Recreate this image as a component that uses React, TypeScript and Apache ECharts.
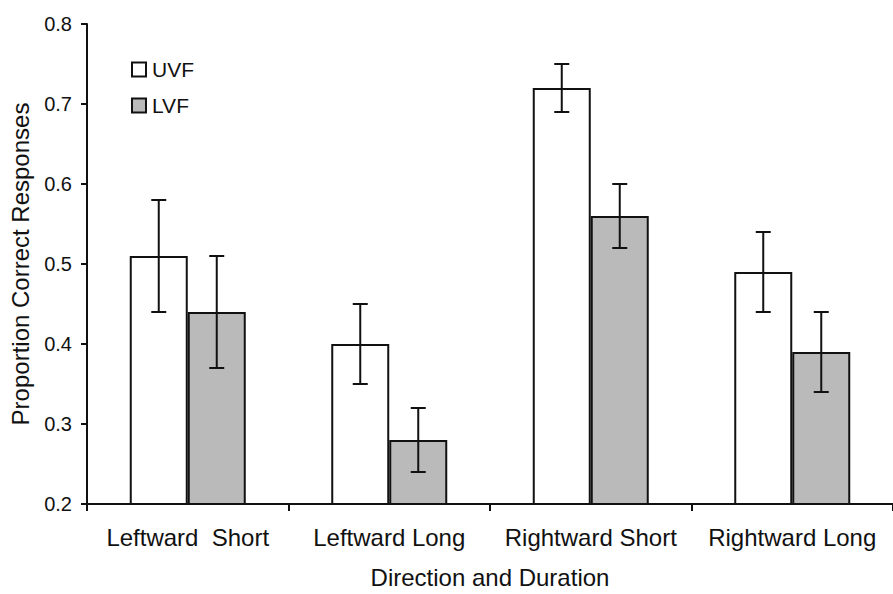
import React, { useEffect, useRef } from "react";
import * as echarts from "echarts";

// Direction/duration conditions along the x axis
const categories = ["Leftward  Short", "Leftward Long", "Rightward Short", "Rightward Long"];

// Mean proportion correct per visual field, with error-bar half widths
const uvfMean = [0.51, 0.4, 0.72, 0.49];
const uvfErr = [0.07, 0.05, 0.03, 0.05];
const lvfMean = [0.44, 0.28, 0.56, 0.39];
const lvfErr = [0.07, 0.04, 0.04, 0.05];

const yTicks = { min: 0.2, max: 0.8, interval: 0.1 };

const FONT = "Liberation Sans, Arial, Helvetica, sans-serif";
const BAR_W = 58;

function errorSeries(name: string, means: number[], errs: number[], side: number) {
  return {
    type: "custom",
    name,
    z: 5,
    silent: true,
    data: means.map((m, i) => [i, m - errs[i], m + errs[i]]),
    renderItem: (_params: any, api: any) => {
      const idx = api.value(0);
      const lo = api.coord([idx, api.value(1)]);
      const hi = api.coord([idx, api.value(2)]);
      const x = lo[0] + side * (BAR_W / 2);
      const cap = 7.5;
      const style = { stroke: "#111", lineWidth: 2 };
      return {
        type: "group",
        children: [
          { type: "line", shape: { x1: x, y1: lo[1], x2: x, y2: hi[1] }, style },
          { type: "line", shape: { x1: x - cap, y1: hi[1], x2: x + cap, y2: hi[1] }, style },
          { type: "line", shape: { x1: x - cap, y1: lo[1], x2: x + cap, y2: lo[1] }, style },
        ],
      };
    },
  };
}

export default function App() {
  const ref = useRef<HTMLDivElement>(null);

  useEffect(() => {
    document.body.style.margin = "0";
    document.body.style.overflow = "hidden";
    const chart = echarts.init(ref.current!, null, { renderer: "svg" });
    chart.setOption({
      animation: false,
      backgroundColor: "#ffffff",
      textStyle: { fontFamily: FONT, color: "#111" },
      legend: {
        data: ["UVF", "LVF"],
        orient: "vertical",
        left: 126,
        top: 54,
        itemWidth: 14,
        itemHeight: 14,
        itemGap: 15,
        icon: "rect",
        textStyle: { fontFamily: FONT, fontSize: 21, color: "#111", padding: [0, 0, 0, 1] },
      },
      grid: { left: 87, right: -7, top: 24, bottom: 83 },
      xAxis: {
        type: "category",
        data: categories,
        name: "Direction and Duration",
        nameLocation: "middle",
        nameGap: 61,
        nameTextStyle: { fontFamily: FONT, fontSize: 24, color: "#111" },
        axisLine: { lineStyle: { color: "#111", width: 2 } },
        axisTick: { show: true, interval: 0, length: 7, lineStyle: { color: "#111", width: 2 } },
        axisLabel: { interval: 0, margin: 21, fontFamily: FONT, fontSize: 24, color: "#111" },
      },
      yAxis: {
        type: "value",
        min: yTicks.min,
        max: yTicks.max,
        interval: yTicks.interval,
        name: "Proportion Correct Responses",
        nameLocation: "middle",
        nameGap: 55,
        nameTextStyle: { fontFamily: FONT, fontSize: 24, color: "#111" },
        splitLine: { show: false },
        axisLine: { show: true, lineStyle: { color: "#111", width: 2 } },
        axisTick: { show: true, length: 6, lineStyle: { color: "#111", width: 2 } },
        axisLabel: {
          margin: 15,
          fontFamily: FONT,
          fontSize: 20,
          color: "#111",
          formatter: (v: number) => v.toFixed(1),
        },
      },
      series: [
        {
          type: "bar",
          name: "UVF",
          data: uvfMean,
          barWidth: BAR_W,
          barGap: "0%",
          itemStyle: { color: "#ffffff", borderColor: "#111", borderWidth: 2 },
        },
        {
          type: "bar",
          name: "LVF",
          data: lvfMean,
          barWidth: BAR_W,
          barGap: "0%",
          itemStyle: { color: "#bababa", borderColor: "#111", borderWidth: 2 },
        },
        errorSeries("UVF err", uvfMean, uvfErr, -1),
        errorSeries("LVF err", lvfMean, lvfErr, 1),
      ],
    });
    return () => chart.dispose();
  }, []);

  return (
    <div
      style={{
        position: "fixed",
        left: 0,
        top: 0,
        width: 893,
        height: 594,
        overflow: "hidden",
        background: "#fff",
      }}
    >
      <div ref={ref} style={{ width: 893, height: 594 }} />
    </div>
  );
}
